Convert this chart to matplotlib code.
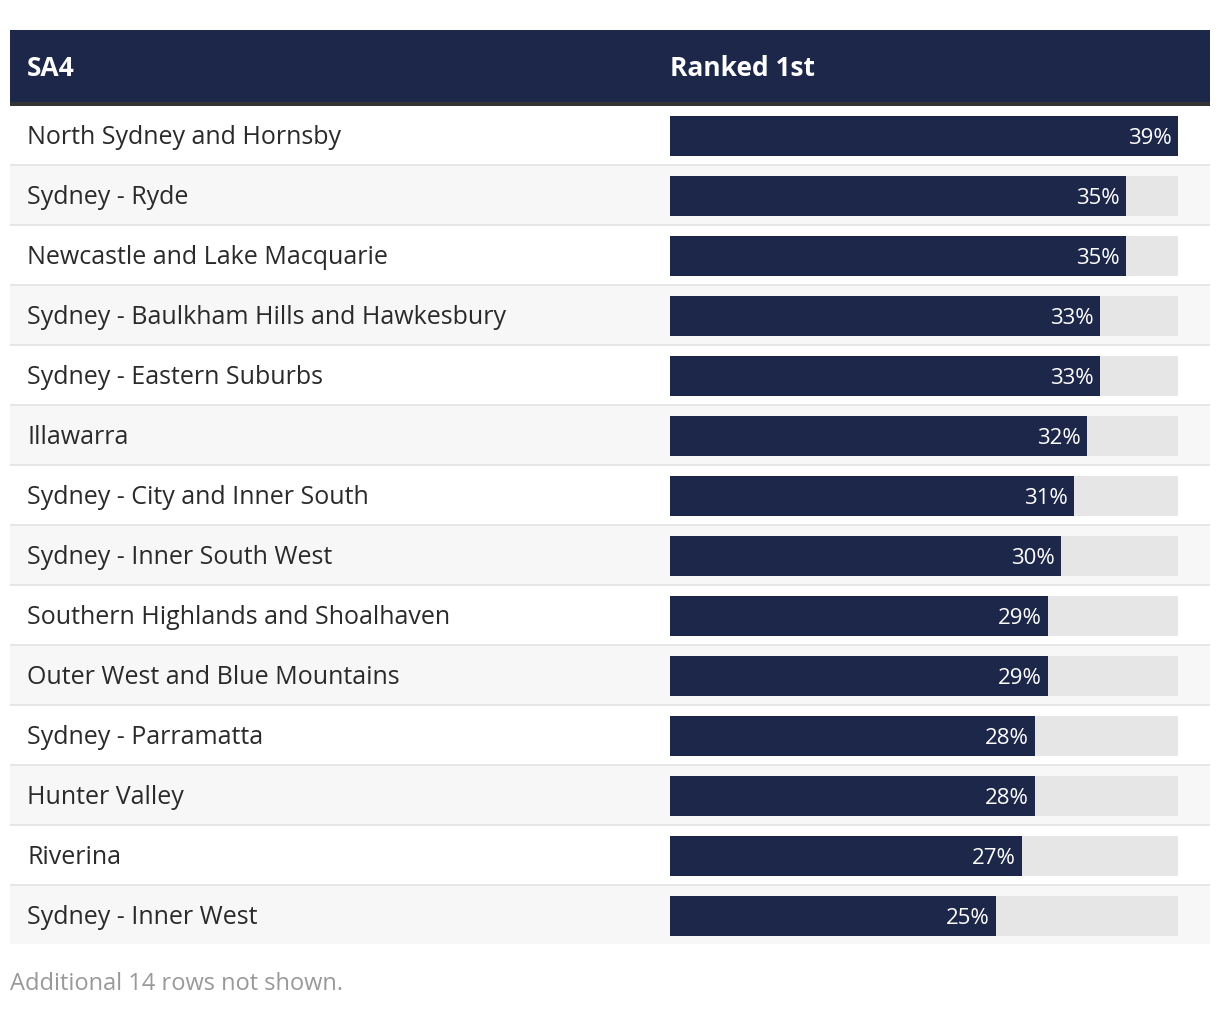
import matplotlib
matplotlib.use("Agg")
import matplotlib.pyplot as plt
from matplotlib.patches import Rectangle

regions = ["North Sydney and Hornsby", "Sydney - Ryde", "Newcastle and Lake Macquarie",
           "Sydney - Baulkham Hills and Hawkesbury", "Sydney - Eastern Suburbs", "Illawarra",
           "Sydney - City and Inner South", "Sydney - Inner South West",
           "Southern Highlands and Shoalhaven", "Outer West and Blue Mountains",
           "Sydney - Parramatta", "Hunter Valley", "Riverina", "Sydney - Inner West"]
ranked_first = [39, 35, 35, 33, 33, 32, 31, 30, 29, 29, 28, 28, 27, 25]
headers = ["SA4", "Ranked 1st"]
footer = "Additional 14 rows not shown."

NAVY = "#1c2749"
TRACK = "#e6e6e6"
STRIPE = "#f7f7f7"
SEP = "#e6e6e6"
FONT = "Open Sans"

W, H = 1220, 1010
fig = plt.figure(figsize=(W / 100, H / 100), dpi=100)
fig.patch.set_facecolor("white")

bg = fig.add_axes([0, 0, 1, 1])
bg.set_xlim(0, W)
bg.set_ylim(H, 0)
bg.axis("off")

# header
bg.add_patch(Rectangle((10, 30), 1200, 72, color=NAVY, lw=0))
bg.add_patch(Rectangle((10, 102), 1200, 4, color="#333333", lw=0))
bg.text(27, 69, headers[0], color="white", fontsize=19, fontweight="bold",
        family=FONT, va="center", ha="left")
bg.text(670, 69, headers[1], color="white", fontsize=19, fontweight="bold",
        family=FONT, va="center", ha="left")

n = len(regions)
top = 106
rh = 60
for i, name in enumerate(regions):
    y0 = top + rh * i
    bg.add_patch(Rectangle((10, y0), 1200, rh - 2,
                           color=(STRIPE if i % 2 else "white"), lw=0))
    if i < n - 1:
        bg.add_patch(Rectangle((10, y0 + rh - 2), 1200, 2, color=SEP, lw=0))
    bg.text(27, y0 + 31, name, color="#2a2a2a", fontsize=18, family=FONT,
            va="center", ha="left")

bg.text(10, 984, footer, color="#999999", fontsize=17, family=FONT,
        va="center", ha="left")

# bar axes
bx0, bx1 = 670, 1178
ax = fig.add_axes([bx0 / W, (H - (top + rh * n)) / H, (bx1 - bx0) / W, rh * n / H])
ax.set_xlim(0, max(ranked_first))
ax.set_ylim(n - 0.5, -0.5)
ax.axis("off")
ys = list(range(n))
ax.barh(ys, [max(ranked_first)] * n, height=40 / 60, color=TRACK, lw=0)
ax.barh(ys, ranked_first, height=40 / 60, color=NAVY, lw=0)
for y, v in zip(ys, ranked_first):
    ax.annotate(f"{v}%", (v, y), xytext=(-4.5, -1.5), textcoords="offset points",
                color="white", fontsize=16, family=FONT, ha="right", va="center")

fig.savefig("out.png", dpi=100)
